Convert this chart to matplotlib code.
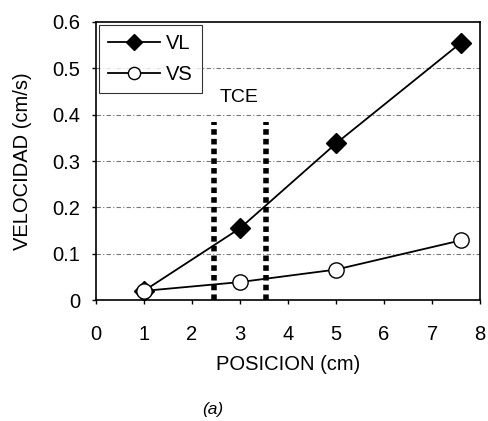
import matplotlib
matplotlib.use("Agg")
import matplotlib.pyplot as plt

# Data
pos = [1, 3, 5, 7.6]
vl = [0.02, 0.155, 0.338, 0.555]
vs = [0.02, 0.039, 0.066, 0.129]
tce_bounds = [2.45, 3.55]
tce_top = 0.385
xticks = [0, 1, 2, 3, 4, 5, 6, 7, 8]
yticks = [0, 0.1, 0.2, 0.3, 0.4, 0.5, 0.6]
ytick_labels = ["0", "0.1", "0.2", "0.3", "0.4", "0.5", "0.6"]

plt.rcParams['font.family'] = ['Liberation Sans', 'DejaVu Sans']

fig = plt.figure(figsize=(4.89, 4.21), dpi=100)
ax = fig.add_axes([0.196, 0.287, 0.786, 0.661])

for yv in yticks[1:-1]:
    ax.axhline(yv, color='#777777', lw=0.8, ls=(0, (4, 2, 1, 2)), zorder=0)

for xb in tce_bounds:
    ax.plot([xb, xb], [0, tce_top], color='black', lw=4, ls=(0, (1.0, 0.75)), zorder=2)
ax.text(2.98, 0.437, "TCE", ha='center', va='center', fontsize=14)

ax.plot(pos, vl, color='black', lw=1.3, marker='D', markersize=10,
        markerfacecolor='black', markeredgecolor='black', label='VL', zorder=3)
ax.plot(pos, vs, color='black', lw=1.3, marker='o', markersize=11,
        markerfacecolor='white', markeredgecolor='black', label='VS', zorder=4)

ax.set_xlim(0, 8)
ax.set_ylim(0, 0.6)
ax.set_xticks(xticks)
ax.set_xticklabels([str(x) for x in xticks])
ax.set_yticks(yticks)
ax.set_yticklabels(ytick_labels)
ax.tick_params(axis='both', labelsize=14.5, direction='out', length=3, width=1)
ax.tick_params(axis='x', pad=15)
ax.tick_params(axis='y', pad=8)
ax.set_xlabel("POSICION (cm)", fontsize=14.5, labelpad=8)
ax.set_ylabel("VELOCIDAD (cm/s)", fontsize=14.5, labelpad=15)
for sp in ax.spines.values():
    sp.set_linewidth(1.2)

leg = ax.legend(loc='upper left', fontsize=14.5, frameon=True, fancybox=False,
                edgecolor='black', borderaxespad=0.15, handlelength=2.6,
                borderpad=0.45, labelspacing=0.6, handletextpad=0.3,
                markerscale=0.8)
leg.get_frame().set_linewidth(0.8)

fig.text(0.436, 0.028, "(a)", fontsize=12.5, style='italic', ha='center', va='center')

fig.savefig("out.png", dpi=100)
